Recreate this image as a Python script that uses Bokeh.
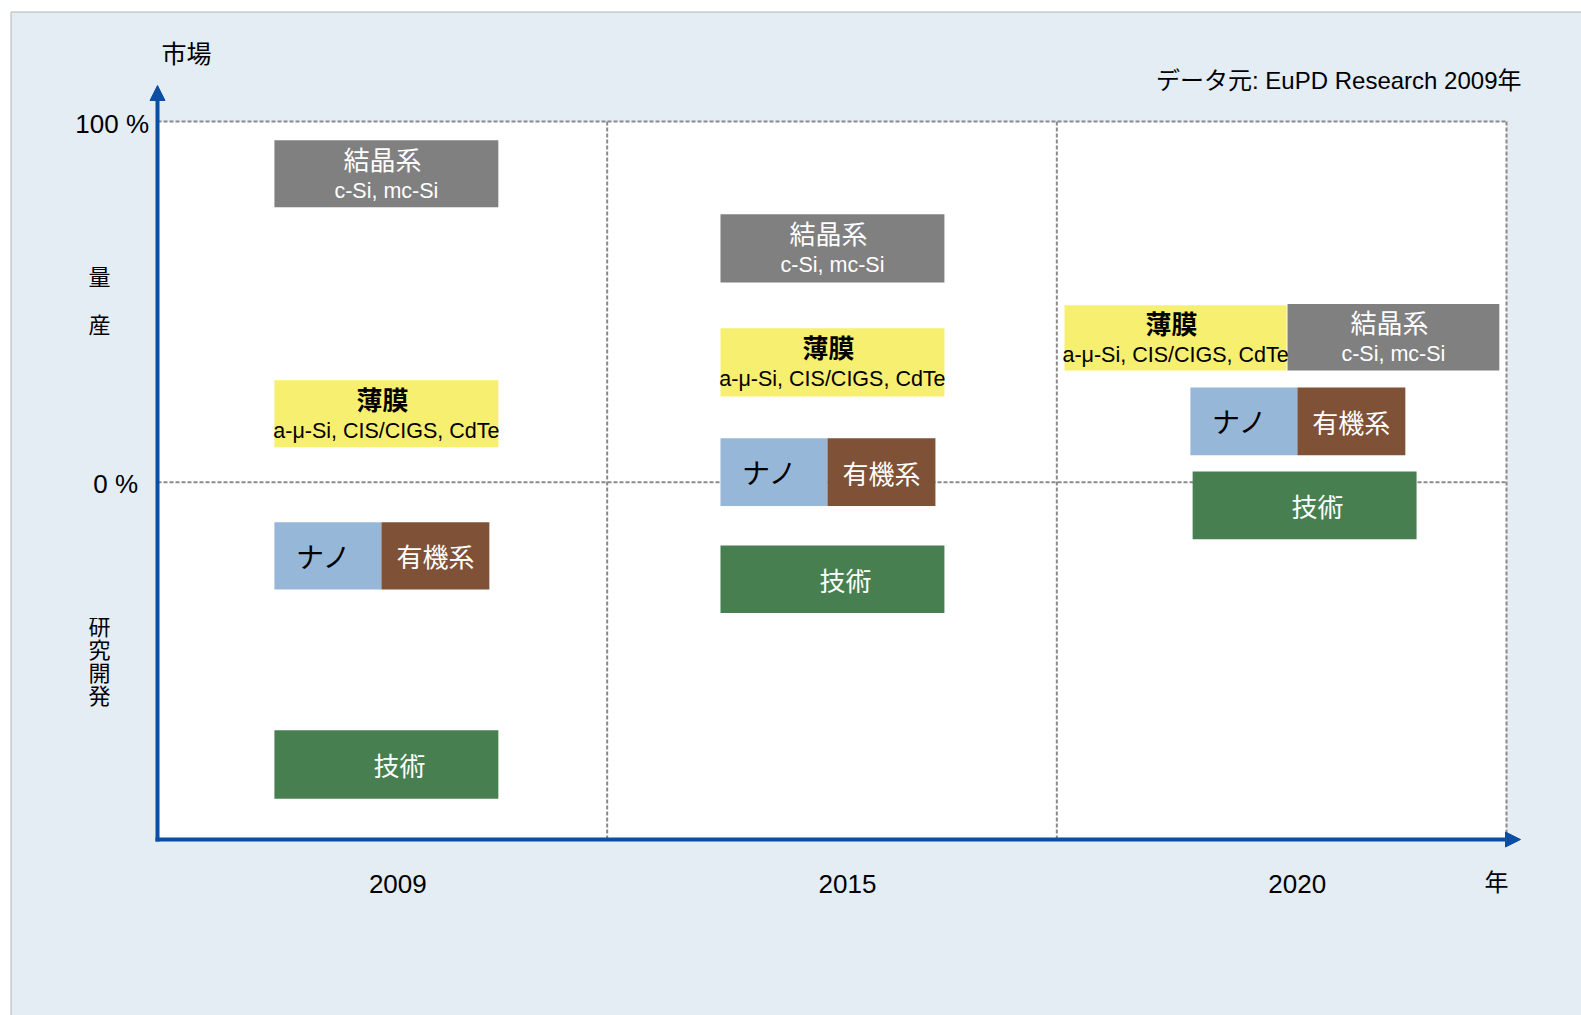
from bokeh.plotting import figure
from bokeh.models import Range1d, ColumnDataSource
from bokeh.core.properties import value
from bokeh.embed import file_html
from bokeh.resources import INLINE

# ---------------- data ----------------
years = ["2009", "2015", "2020"]
y_ticks = [100, 0]
y_tick_labels = ["100 %", "0 %"]

techs = ["結晶系", "薄膜", "ナノ", "有機系", "技術"]
tech_sub = ["c-Si, mc-Si", "a-μ-Si, CIS/CIGS, CdTe", "", "", ""]

box_year = ["2009"] * 5 + ["2015"] * 5 + ["2020"] * 5
box_tech = techs * 3
# horizontal extent (column i = year i spans [i, i+1])
box_left = [0.260, 0.260, 0.260, 0.498, 0.260,
            1.252, 1.252, 1.252, 1.490, 1.252,
            2.513, 2.017, 2.297, 2.535, 2.302]
box_right = [0.758, 0.758, 0.498, 0.738, 0.758,
             1.750, 1.750, 1.490, 1.730, 1.750,
             2.984, 2.511, 2.535, 2.775, 2.800]
# market axis (100 % = mass production, below 0 % = R&D)
box_top = [94.8, 28.3, -11.1, -11.1, -68.7,
           74.3, 42.7, 12.2, 12.2, -17.5,
           49.4, 49.1, 26.3, 26.3, 3.0]
box_bottom = [76.2, 9.7, -29.7, -29.7, -87.7,
              55.4, 23.8, -6.6, -6.6, -36.2,
              31.0, 31.0, 7.5, 7.5, -15.8]

Y_MIN, Y_MAX = -99, 100
X_MIN, X_MAX = 0, len(years)

upper_caption = ["量", "産"]
lower_caption = ["研", "究", "開", "発"]

# ---------------- layout / styles ----------------
W, H = 1581, 1015
PX_L, PX_R, PX_T, PX_B = 157, 1506, 121, 839   # plot area in pixels
SX = (PX_R - PX_L) / (X_MAX - X_MIN)
SY = (PX_B - PX_T) / (Y_MAX - Y_MIN)


def dx(px):
    return X_MIN + (px - PX_L) / SX


def dy(py):
    return Y_MAX - (py - PX_T) / SY


BG = "#e4ecf4"
AXIS_BLUE = "#0b4ea2"
GRID = "#8a8a8a"
tech_fill = {"結晶系": "#808080", "薄膜": "#f7ef6f", "ナノ": "#97b7d9",
             "有機系": "#7f5136", "技術": "#477f50"}
tech_text = {"結晶系": "white", "薄膜": "black", "ナノ": "black",
             "有機系": "white", "技術": "white"}
tech_weight = {"結晶系": "normal", "薄膜": "bold", "ナノ": "normal",
               "有機系": "normal", "技術": "normal"}
tech_size = {"結晶系": "26px", "薄膜": "26px", "ナノ": "28px",
             "有機系": "26px", "技術": "26px"}
tech_dx = {"結晶系": -4, "薄膜": -4, "ナノ": -4, "有機系": 0, "技術": 13}
sub_of = dict(zip(techs, tech_sub))

CJK = "Noto Sans CJK JP"
LAT = "Liberation Sans"

p = figure(width=W, height=H, output_backend="svg", toolbar_location=None,
           title=None, x_axis_location=None, y_axis_location=None,
           x_range=Range1d(dx(0), dx(W)), y_range=Range1d(dy(H), dy(0)),
           min_border=0, min_border_left=0, min_border_right=0,
           min_border_top=0, min_border_bottom=0)
p.background_fill_color = "white"
p.border_fill_color = "white"
p.outline_line_color = None
p.grid.visible = False

# panel background with thin grey border
p.quad(left=dx(10.5), right=dx(W + 5), top=dy(11.5), bottom=dy(H + 5),
       fill_color=BG, line_color="#b4b4b4", line_width=1)
# white plot area
p.quad(left=X_MIN, right=X_MAX, top=Y_MAX, bottom=Y_MIN,
       fill_color="white", line_color=None)

# dashed grid lines (behind the boxes)
gx0 = [1, 2, X_MAX, X_MIN, X_MIN]
gx1 = [1, 2, X_MAX, X_MAX, X_MAX]
gy0 = [Y_MIN, Y_MIN, Y_MIN, 0, Y_MAX]
gy1 = [Y_MAX, Y_MAX, Y_MAX, 0, Y_MAX]
p.segment(x0=gx0, y0=gy0, x1=gx1, y1=gy1,
          line_color=GRID, line_width=2, line_dash="4 2")

# boxes
src = ColumnDataSource(dict(
    left=box_left, right=box_right, top=box_top, bottom=box_bottom,
    tech=box_tech, year=box_year,
    fill=[tech_fill[t] for t in box_tech],
))
p.quad(left="left", right="right", top="top", bottom="bottom", source=src,
       fill_color="fill", line_color=None)

cx = [(l + r) / 2 for l, r in zip(box_left, box_right)]
cy = [(t + b) / 2 for t, b in zip(box_top, box_bottom)]
tsrc = ColumnDataSource(dict(
    x=cx, y=cy, text=box_tech,
    color=[tech_text[t] for t in box_tech],
    style=[tech_weight[t] for t in box_tech],
    size=[tech_size[t] for t in box_tech],
    ox=[tech_dx[t] for t in box_tech],
    oy=[-15.5 if sub_of[t] else 0 for t in box_tech],
))
p.text(x="x", y="y", text="text", source=tsrc, text_color="color",
       text_font=value(CJK), text_font_size="size",
       text_font_style="style", text_align="center", text_baseline="middle",
       x_offset="ox", y_offset="oy")

sub_idx = [i for i, t in enumerate(box_tech) if sub_of[t]]
ssrc = ColumnDataSource(dict(
    x=[cx[i] for i in sub_idx], y=[cy[i] for i in sub_idx],
    text=[sub_of[box_tech[i]] for i in sub_idx],
    color=[tech_text[box_tech[i]] for i in sub_idx],
))
p.text(x="x", y="y", text="text", source=ssrc, text_color="color",
       text_font=value(LAT), text_font_size=value("21.5px"),
       text_align="center", text_baseline="middle", y_offset=17)

# axes with arrow heads
p.segment(x0=[X_MIN, dx(155)], y0=[dy(841), Y_MIN],
          x1=[X_MIN, dx(1507)], y1=[dy(99), Y_MIN],
          line_color=AXIS_BLUE, line_width=4)
p.patches(xs=[[dx(157 - 7.5), dx(157), dx(157 + 7.5)],
              [dx(1505), dx(1520), dx(1505)]],
          ys=[[dy(100), dy(85), dy(100)],
              [dy(839 - 7.5), dy(839), dy(839 + 7.5)]],
          fill_color=AXIS_BLUE, line_color=AXIS_BLUE, line_width=1)

# tick labels
p.text(x=[dx(148.5), dx(137.5)], y=y_ticks, text=y_tick_labels,
       text_font=value(LAT), text_font_size=value("26px"), text_color="black",
       text_align="right", text_baseline="middle", y_offset=2)
p.text(x=[i + 0.5 for i in range(len(years))], y=[dy(883)] * len(years),
       text=years, text_font=value(LAT), text_font_size=value("26px"),
       text_color="black", text_align="center", text_baseline="middle",
       x_offset=15.5)

# captions
cap = dict(text_font=value(CJK), text_align="center", text_baseline="middle",
           text_color="black")
p.text(x=[dx(186)], y=[dy(51)], text=["市場"], text_font_size=value("25px"), **cap)
p.text(x=[dx(99)] * 2, y=[dy(274), dy(322)], text=upper_caption,
       text_font_size=value("22px"), **cap)
p.text(x=[dx(99)] * 4, y=[dy(624 + 23.3 * i) for i in range(4)],
       text=lower_caption, text_font_size=value("22px"), **cap)
p.text(x=[dx(1496)], y=[dy(880)], text=["年"], text_font_size=value("24px"), **cap)
p.text(x=[dx(1521)], y=[dy(80)], text=["データ元: EuPD Research 2009年"],
       text_font=value(LAT + ", " + CJK), text_font_size=value("24px"),
       text_align="right", text_baseline="middle", text_color="black")

open("out.html", "w").write(file_html(p, INLINE))
